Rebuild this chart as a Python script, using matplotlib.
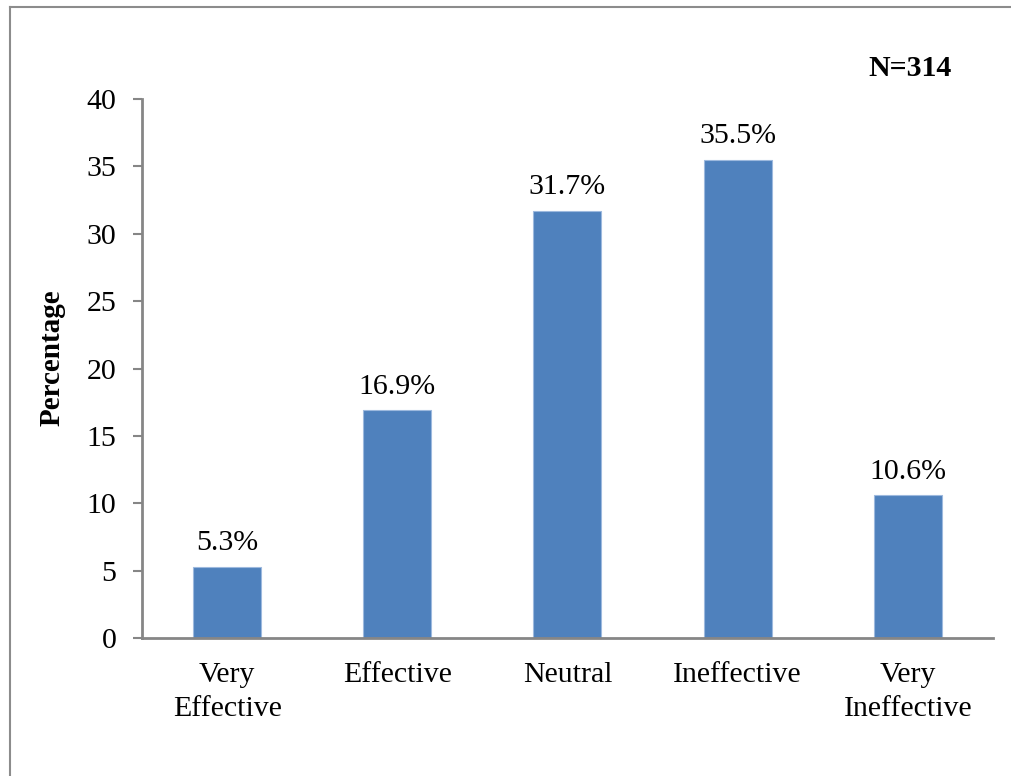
import matplotlib.pyplot as plt
from matplotlib.lines import Line2D

categories = ["Very\nEffective", "Effective", "Neutral", "Ineffective", "Very\nIneffective"]
percentages = [5.3, 16.9, 31.7, 35.5, 10.6]
y_ticks = [0, 5, 10, 15, 20, 25, 30, 35, 40]
sample_note = "N=314"

BAR_COLOR = "#4F81BD"
AXIS_COLOR = "#868686"

plt.rcParams["font.family"] = ["Liberation Serif", "DejaVu Serif"]
plt.rcParams["font.size"] = 21.5

fig = plt.figure(figsize=(10.11, 7.76), dpi=100)
ax = fig.add_axes([0.1405, 0.1778, 0.8415, 0.6946])

x = range(len(categories))
bars = ax.bar(x, percentages, width=0.4, color=BAR_COLOR,
              edgecolor="#9DB9DE", linewidth=0.8, zorder=2)

# value labels above each bar
for rect, val in zip(bars, percentages):
    ax.annotate(f"{val:.1f}%", (rect.get_x() + rect.get_width() / 2, val),
                xytext=(0, 7.5), textcoords="offset points",
                ha="center", va="bottom")

ax.set_xlim(-0.5, len(categories) - 0.5)
ax.set_ylim(0, 40)
ax.set_yticks(y_ticks)
ax.set_xticks(list(x))
ax.set_xticklabels(categories, linespacing=1.4)

ax.spines["top"].set_visible(False)
ax.spines["right"].set_visible(False)
for side in ("left", "bottom"):
    ax.spines[side].set_color(AXIS_COLOR)
    ax.spines[side].set_linewidth(2)

ax.tick_params(axis="y", direction="out", length=6.5, width=1.5,
               color=AXIS_COLOR, pad=12)
ax.tick_params(axis="x", length=0, pad=17)

ax.set_ylabel("Percentage", fontweight="bold", fontsize=21)
ax.yaxis.set_label_coords(-0.09, 0.52)

fig.text(910 / 1011, 1 - 68 / 776, sample_note, fontweight="bold",
         ha="center", va="center")

# frame lines around the chart area
fig.add_artist(Line2D([10 / 1011, 1.0], [1 - 7 / 776, 1 - 7 / 776],
                      transform=fig.transFigure, color="#8C8C8C", linewidth=1.5))
fig.add_artist(Line2D([10 / 1011, 10 / 1011], [0.0, 1 - 7 / 776],
                      transform=fig.transFigure, color="#8C8C8C", linewidth=1.5))

fig.savefig("out.png", dpi=100)
